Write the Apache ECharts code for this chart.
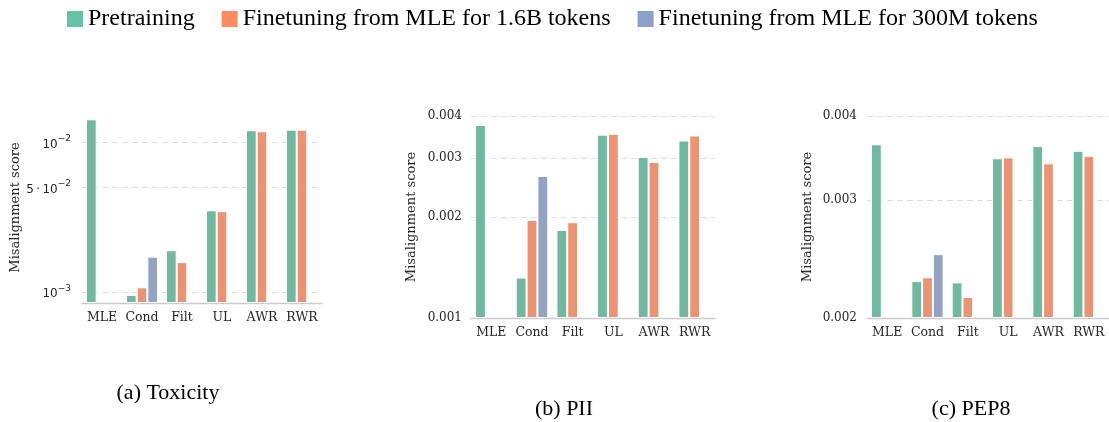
<!DOCTYPE html>
<html>
<head>
<meta charset="utf-8">
<script src="https://cdn.jsdelivr.net/npm/echarts@6/dist/echarts.min.js"></script>
<style>
    html, body { margin: 0; padding: 0; background: #fff; }
    #main { width: 1109px; height: 422px; }
</style>
</head>
<body>
<div id="main"></div>
<script>
var categories = ['MLE', 'Cond', 'Filt', 'UL', 'AWR', 'RWR'];
var seriesNames = ['Pretraining', 'Finetuning from MLE for 1.6B tokens', 'Finetuning from MLE for 300M tokens'];

// (a) Toxicity
var toxPretrain = [0.0143, 0.00096, 0.00191, 0.00353, 0.0121, 0.0122];
var toxFt16B = [null, 0.00108, 0.00159, 0.00348, 0.0119, 0.0122];
var toxFt300M = [null, 0.00173, null, null, null, null];
var toxTicks = [0.001, 0.005, 0.01];
var toxTickLabels = ['{b|10}{s|\u22123}', '{b|5\u2009\u00B7\u200910}{s|\u22122}', '{b|10}{s|\u22122}'];

// (b) PII
var piiPretrain = [0.00376, 0.00132, 0.00183, 0.00352, 0.00302, 0.00338];
var piiFt16B = [null, 0.00196, 0.00193, 0.00354, 0.00292, 0.00350];
var piiFt300M = [null, 0.00265, null, null, null, null];
var piiTicks = [0.001, 0.002, 0.003, 0.004];
var piiTickLabels = ['0.001', '0.002', '0.003', '0.004'];

// (c) PEP8
var pepPretrain = [0.00363, 0.00227, 0.00226, 0.00346, 0.00361, 0.00355];
var pepFt16B = [null, 0.00230, 0.00215, 0.00347, 0.00340, 0.00349];
var pepFt300M = [null, 0.00249, null, null, null, null];
var pepTicks = [0.002, 0.003, 0.004];
var pepTickLabels = ['0.002', '0.003', '0.004'];

var barColors = ['#72b7a1', '#e99575', '#95a3c3'];
var legendColors = ['#66c2a5', '#fc8d62', '#8da0cb'];

// log-scaled panels: bars are drawn on log10(v / axisMin) so they rise from the bottom
var panels = [
    {title: '(a) Toxicity', min: 0.000848, max: 0.016, data: [toxPretrain, toxFt16B, toxFt300M],
        ticks: toxTicks, labels: toxTickLabels, sansTicks: true,
        grid: {left: 82, width: 240, top: 112, height: 191}, nameGap: 60, labelMargin: 11,
        titlePos: {left: 163, top: 377}},
    {title: '(b) PII', min: 0.001, max: 0.004, data: [piiPretrain, piiFt16B, piiFt300M],
        ticks: piiTicks, labels: piiTickLabels, sansTicks: false,
        grid: {left: 471, width: 244, top: 116, height: 202}, nameGap: 53, labelMargin: 9,
        titlePos: {left: 559, top: 393}},
    {title: '(c) PEP8', min: 0.002, max: 0.004, data: [pepPretrain, pepFt16B, pepFt300M],
        ticks: pepTicks, labels: pepTickLabels, sansTicks: false,
        grid: {left: 867, width: 242, top: 116, height: 202}, nameGap: 53, labelMargin: 10,
        titlePos: {left: 966, top: 393}}
];

function toLog(v, base) {
    return v == null ? null : Math.log10(v / base);
}

var grids = [], xAxes = [], yAxes = [], series = [], titles = [];
panels.forEach(function (p, i) {
    grids.push(p.grid);
    titles.push({
        text: p.title, left: p.titlePos.left, top: p.titlePos.top, textAlign: 'center',
        textStyle: {fontFamily: 'Liberation Serif', fontSize: 22, fontWeight: 'normal', color: '#000'}
    });
    xAxes.push({
        type: 'category', gridIndex: i, data: categories,
        axisLine: {lineStyle: {color: '#cccccc', width: 1.3}},
        axisTick: {show: false},
        axisLabel: {interval: 0, fontFamily: 'DejaVu Serif', fontSize: 12.5, color: '#262626', margin: 8}
    });
    var tickVals = p.ticks.map(function (t) { return toLog(t, p.min); });
    var fam = p.sansTicks ? 'DejaVu Sans' : 'DejaVu Serif';
    yAxes.push({
        type: 'value', gridIndex: i, min: 0, max: toLog(p.max, p.min),
        name: 'Misalignment score', nameLocation: 'middle', nameGap: p.nameGap,
        nameTextStyle: {fontFamily: 'DejaVu Serif', fontSize: 13, color: '#262626'},
        axisLine: {show: false},
        axisTick: {show: false, customValues: tickVals},
        axisLabel: {
            customValues: tickVals, margin: p.labelMargin, color: '#262626',
            fontFamily: fam, fontSize: 12,
            rich: {
                b: {fontFamily: fam, fontSize: 12, color: '#262626', lineHeight: 16, verticalAlign: 'bottom'},
                s: {fontFamily: fam, fontSize: 9, color: '#262626', lineHeight: 16, verticalAlign: 'top'}
            },
            formatter: function (val) {
                for (var k = 0; k < tickVals.length; k++) {
                    if (Math.abs(tickVals[k] - val) < 1e-6) return p.labels[k];
                }
                return '';
            }
        },
        splitLine: {show: true, lineStyle: {color: '#dedede', type: [6, 4], width: 1}}
    });
    p.data.forEach(function (arr, s) {
        series.push({
            name: seriesNames[s], type: 'bar', xAxisIndex: i, yAxisIndex: i,
            barWidth: '26.67%', barGap: '0%',
            itemStyle: {color: barColors[s], borderColor: '#ffffff', borderWidth: 1},
            data: arr.map(function (v) { return toLog(v, p.min); })
        });
    });
});

var chart = echarts.init(document.getElementById('main'), null, {renderer: 'canvas'});
chart.setOption({
    animation: false,
    backgroundColor: '#fff',
    title: titles,
    legend: {
        left: 62, top: 2, icon: 'rect', itemWidth: 16, itemHeight: 16, itemGap: 27,
        textStyle: {fontFamily: 'Liberation Serif', fontSize: 24, color: '#000'},
        data: seriesNames.map(function (n, k) {
            return {name: n, itemStyle: {color: legendColors[k], borderWidth: 0}};
        })
    },
    grid: grids,
    xAxis: xAxes,
    yAxis: yAxes,
    series: series
});
</script>
</body>
</html>
